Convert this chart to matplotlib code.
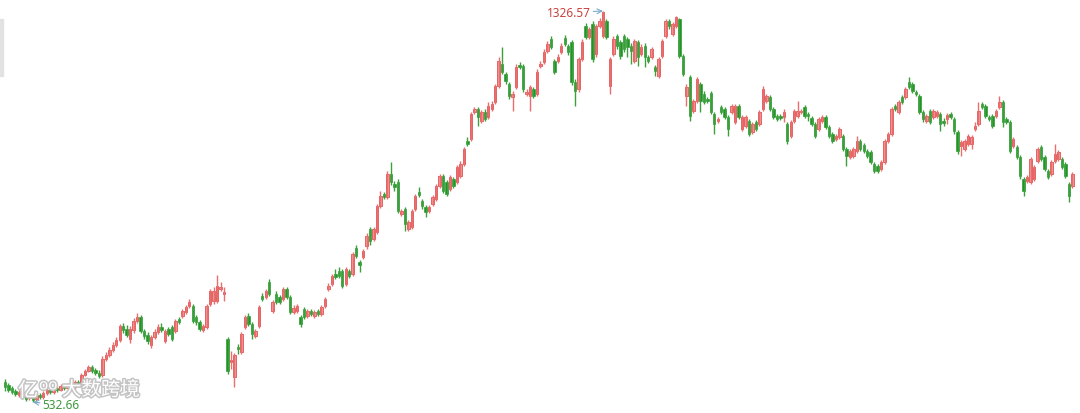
import numpy as np
import matplotlib.pyplot as plt
import matplotlib.patheffects as pe
from matplotlib.patches import Rectangle

plt.rcParams['font.family'] = ['Noto Sans', 'Noto Sans CJK SC', 'DejaVu Sans']

# daily OHLC (price units)
opens = [
    574, 567, 561, 555, 547, 551, 545, 541, 543, 539,
    547, 543, 551, 557, 553, 561, 557, 565, 561, 567,
    563, 574, 567, 588, 596, 604, 598, 592, 588, 620,
    628, 638, 649, 659, 687, 681, 661, 679, 697, 705,
    677, 669, 649, 665, 675, 685, 657, 681, 685, 677,
    701, 707, 716, 728, 728, 705, 695, 679, 685, 732,
    738, 738, 762, 752, 661, 614, 584, 645, 634, 685,
    707, 691, 667, 687, 748, 746, 777, 718, 752, 746,
    742, 762, 746, 716, 718, 705, 722, 707, 718, 707,
    718, 712, 728, 762, 772, 793, 799, 799, 772, 799,
    793, 846, 817, 827, 850, 884, 864, 878, 931, 955,
    949, 996, 975, 980, 915, 925, 884, 888, 925, 959,
    941, 929, 921, 935, 945, 971, 992, 980, 965, 986,
    980, 992, 1016, 1063, 1067, 1122, 1128, 1103, 1122, 1111,
    1128, 1142, 1174, 1219, 1199, 1178, 1152, 1172, 1217, 1215,
    1158, 1154, 1168, 1158, 1215, 1223, 1245, 1270, 1225, 1225,
    1243, 1272, 1256, 1264, 1183, 1168, 1229, 1296, 1274, 1300,
    1239, 1296, 1276, 1306, 1174, 1239, 1276, 1264, 1276, 1270,
    1256, 1225, 1264, 1239, 1256, 1233, 1233, 1213, 1195, 1235,
    1276, 1306, 1280, 1296, 1310, 1235, 1154, 1193, 1124, 1144,
    1178, 1158, 1148, 1160, 1118, 1103, 1132, 1128, 1111, 1122,
    1101, 1134, 1087, 1093, 1103, 1081, 1101, 1097, 1128, 1144,
    1152, 1128, 1113, 1113, 1111, 1097, 1073, 1103, 1113, 1122,
    1132, 1118, 1109, 1097, 1087, 1103, 1111, 1091, 1077, 1067,
    1071, 1073, 1046, 1030, 1032, 1042, 1063, 1055, 1042, 1040,
    1016, 1012, 1006, 1020, 1063, 1077, 1134, 1122, 1152, 1152,
    1183, 1178, 1162, 1154, 1122, 1103, 1124, 1111, 1113, 1118,
    1103, 1107, 1118, 1107, 1081, 1053, 1046, 1057, 1057, 1087,
    1097, 1138, 1134, 1111, 1113, 1113, 1132, 1142, 1107, 1101,
    1053, 1051, 1030, 986, 982, 980, 986, 1022, 1051, 1030,
    1002, 996, 1022, 1026, 1026, 1016, 975, 971,
]
closes = [
    563, 557, 553, 549, 553, 543, 539, 545, 537, 547,
    543, 551, 557, 553, 561, 557, 565, 561, 567, 563,
    574, 567, 588, 596, 604, 596, 592, 586, 620, 628,
    638, 649, 659, 687, 679, 669, 681, 697, 705, 677,
    667, 657, 665, 675, 685, 679, 677, 671, 661, 697,
    695, 718, 726, 736, 697, 695, 681, 687, 728, 758,
    758, 768, 766, 756, 596, 618, 628, 640, 671, 705,
    691, 671, 677, 726, 742, 758, 752, 736, 736, 736,
    762, 746, 716, 724, 728, 691, 705, 718, 712, 716,
    712, 726, 742, 768, 789, 787, 789, 768, 803, 789,
    833, 829, 811, 839, 870, 860, 884, 931, 951, 949,
    996, 980, 969, 921, 921, 894, 898, 921, 951, 953,
    931, 919, 929, 949, 971, 992, 962, 955, 990, 971,
    1010, 1016, 1046, 1057, 1118, 1128, 1111, 1122, 1107, 1134,
    1138, 1174, 1225, 1203, 1185, 1154, 1158, 1213, 1213, 1168,
    1162, 1172, 1154, 1203, 1219, 1243, 1260, 1254, 1203, 1233,
    1256, 1260, 1243, 1183, 1164, 1229, 1264, 1274, 1290, 1229,
    1296, 1306, 1325, 1274, 1229, 1270, 1256, 1235, 1249, 1254,
    1245, 1266, 1233, 1254, 1233, 1225, 1249, 1205, 1229, 1266,
    1306, 1296, 1300, 1314, 1235, 1199, 1172, 1113, 1144, 1189,
    1144, 1142, 1144, 1122, 1097, 1107, 1122, 1111, 1087, 1134,
    1134, 1111, 1111, 1111, 1077, 1097, 1087, 1122, 1168, 1154,
    1128, 1111, 1107, 1109, 1122, 1063, 1101, 1124, 1124, 1124,
    1113, 1113, 1097, 1073, 1107, 1111, 1091, 1073, 1063, 1073,
    1087, 1046, 1032, 1042, 1046, 1063, 1046, 1042, 1032, 1020,
    1002, 1002, 1020, 1063, 1077, 1128, 1128, 1142, 1142, 1168,
    1172, 1164, 1158, 1122, 1107, 1113, 1101, 1124, 1122, 1097,
    1099, 1115, 1111, 1083, 1042, 1061, 1063, 1073, 1071, 1093,
    1124, 1132, 1113, 1107, 1093, 1124, 1142, 1101, 1101, 1042,
    1067, 1030, 992, 961, 990, 1026, 1010, 1046, 1026, 1006,
    990, 1020, 1036, 1040, 1010, 992, 951, 996,
]
highs = [
    580, 571, 565, 559, 557, 555, 549, 549, 547, 551,
    551, 555, 561, 561, 565, 565, 569, 569, 571, 571,
    578, 578, 592, 600, 608, 608, 602, 598, 626, 634,
    645, 655, 665, 691, 693, 689, 687, 703, 714, 710,
    681, 675, 669, 681, 691, 693, 681, 685, 689, 701,
    705, 722, 730, 742, 732, 710, 699, 691, 732, 762,
    766, 791, 777, 766, 665, 636, 632, 651, 675, 710,
    714, 695, 681, 730, 754, 762, 783, 740, 758, 750,
    766, 766, 750, 730, 732, 710, 726, 722, 722, 720,
    722, 730, 746, 774, 793, 803, 807, 803, 807, 803,
    837, 852, 821, 843, 876, 888, 888, 935, 961, 959,
    1002, 1020, 982, 986, 925, 929, 902, 925, 955, 969,
    945, 933, 933, 953, 975, 996, 996, 984, 994, 990,
    1014, 1022, 1050, 1071, 1122, 1132, 1132, 1126, 1128, 1142,
    1144, 1178, 1233, 1254, 1203, 1182, 1164, 1219, 1223, 1219,
    1168, 1176, 1172, 1209, 1225, 1249, 1266, 1276, 1229, 1239,
    1262, 1278, 1260, 1268, 1189, 1233, 1270, 1302, 1294, 1306,
    1300, 1312, 1326.57, 1310, 1233, 1276, 1280, 1268, 1280, 1274,
    1262, 1270, 1268, 1260, 1262, 1237, 1254, 1217, 1233, 1270,
    1310, 1310, 1304, 1316, 1312, 1239, 1178, 1197, 1148, 1193,
    1183, 1164, 1152, 1164, 1122, 1111, 1136, 1132, 1115, 1138,
    1138, 1138, 1115, 1115, 1107, 1101, 1105, 1126, 1174, 1158,
    1156, 1132, 1118, 1118, 1128, 1101, 1105, 1128, 1144, 1128,
    1136, 1122, 1113, 1101, 1111, 1115, 1115, 1095, 1081, 1077,
    1091, 1077, 1051, 1046, 1051, 1073, 1067, 1059, 1046, 1044,
    1020, 1016, 1024, 1067, 1081, 1132, 1138, 1146, 1156, 1172,
    1193, 1183, 1166, 1158, 1126, 1117, 1128, 1128, 1126, 1122,
    1109, 1119, 1122, 1111, 1085, 1065, 1067, 1077, 1075, 1101,
    1142, 1142, 1138, 1115, 1117, 1128, 1154, 1146, 1111, 1105,
    1071, 1055, 1034, 990, 994, 1030, 1014, 1050, 1055, 1034,
    1006, 1024, 1057, 1044, 1030, 1020, 980, 1000,
]
lows = [
    555, 553, 549, 545, 543, 539, 535, 537, 532.66, 535,
    539, 539, 547, 549, 549, 553, 555, 557, 557, 559,
    559, 563, 563, 586, 594, 592, 588, 582, 584, 616,
    624, 634, 645, 655, 673, 665, 653, 673, 693, 673,
    661, 651, 643, 661, 671, 675, 653, 667, 657, 673,
    691, 703, 712, 724, 693, 689, 677, 675, 681, 728,
    732, 734, 758, 738, 590, 600, 563, 630, 630, 681,
    687, 661, 663, 683, 738, 742, 748, 714, 732, 732,
    738, 742, 712, 712, 714, 685, 701, 703, 707, 703,
    707, 707, 724, 758, 768, 783, 785, 764, 768, 785,
    789, 825, 797, 823, 843, 852, 860, 874, 927, 945,
    945, 973, 961, 917, 910, 880, 880, 884, 921, 949,
    925, 908, 917, 931, 941, 967, 957, 951, 961, 967,
    975, 988, 1012, 1053, 1063, 1118, 1093, 1099, 1103, 1107,
    1124, 1138, 1170, 1199, 1178, 1148, 1124, 1168, 1209, 1162,
    1154, 1124, 1150, 1154, 1211, 1219, 1241, 1249, 1199, 1221,
    1239, 1256, 1237, 1176, 1134, 1162, 1225, 1270, 1270, 1223,
    1233, 1292, 1272, 1270, 1158, 1235, 1249, 1229, 1243, 1233,
    1219, 1221, 1215, 1235, 1213, 1221, 1229, 1195, 1191, 1231,
    1272, 1290, 1276, 1292, 1231, 1195, 1134, 1103, 1120, 1140,
    1122, 1138, 1140, 1118, 1077, 1099, 1118, 1107, 1073, 1118,
    1097, 1107, 1083, 1089, 1073, 1077, 1083, 1093, 1124, 1140,
    1124, 1107, 1103, 1105, 1101, 1057, 1069, 1099, 1109, 1118,
    1109, 1103, 1093, 1069, 1083, 1099, 1087, 1069, 1059, 1063,
    1067, 1042, 1012, 1026, 1028, 1038, 1042, 1038, 1028, 1016,
    998, 998, 1002, 1016, 1059, 1073, 1124, 1118, 1138, 1148,
    1168, 1160, 1154, 1118, 1101, 1099, 1097, 1107, 1109, 1083,
    1093, 1097, 1107, 1077, 1036, 1032, 1042, 1053, 1046, 1083,
    1093, 1128, 1109, 1103, 1089, 1109, 1128, 1091, 1097, 1038,
    1049, 1026, 986, 951, 977, 975, 982, 1018, 1022, 1002,
    986, 992, 1018, 1022, 1006, 988, 939, 967,
]

o = np.array(opens, dtype=float)
c = np.array(closes, dtype=float)
h = np.array(highs, dtype=float)
l = np.array(lows, dtype=float)
idx = np.arange(len(o))
up = c >= o

fig = plt.figure(figsize=(10.8, 4.14), dpi=100)
ax = fig.add_axes([0, 0, 1, 1])

# wicks
ax.vlines(idx[up], l[up], h[up], color='#e96f6f', lw=1)
ax.vlines(idx[~up], l[~up], h[~up], color='#3c9f3c', lw=1)

# bodies (red = up, green = down)
body = np.maximum(np.abs(c - o), 1.5)
ax.bar(idx[up], body[up], bottom=o[up], width=0.7,
       color='#f29a9a', edgecolor='#e05252', linewidth=0.6)
ax.bar(idx[~up], body[~up], bottom=c[~up], width=0.7,
       color='#1a921f', edgecolor='#1a921f', linewidth=0.4)

ax.set_xlim(-1.44, 309.2)
ax.set_ylim(510.6, 1351)
ax.axis('off')

# max / min markers
imax = int(np.argmax(h))
imin = int(np.argmin(l))
ax.annotate(f'{h[imax]:.2f}', xy=(imax, h[imax]), xytext=(-9, -1),
            textcoords='offset points', ha='right', va='center',
            fontsize=8.5, color='#c9413c',
            arrowprops=dict(arrowstyle='->', color='#7da8cc', lw=0.8,
                            shrinkA=0, shrinkB=0))
ax.annotate(f'{l[imin]:.2f}', xy=(imin, l[imin]), xytext=(7, -2),
            textcoords='offset points', ha='left', va='center',
            fontsize=8.5, color='#3d9a3d',
            arrowprops=dict(arrowstyle='->', color='#7da8cc', lw=0.8,
                            shrinkA=0, shrinkB=0))

# watermark
wm = [pe.withStroke(linewidth=2.2, foreground='#c4c4c4')]
fig.text(18 / 1080, 1 - 392 / 414, '亿', fontsize=14.5, color='white',
         family=['Noto Sans CJK SC'], va='center', path_effects=wm)
fig.text(39 / 1080, 1 - 387 / 414, 'oo', fontsize=11, color='white',
         va='center', path_effects=wm)
fig.text(62 / 1080, 1 - 391 / 414, '大数跨境', fontsize=14, color='white',
         family=['Noto Sans CJK SC'], va='center', path_effects=wm)

# scroll handle on the left edge
fig.patches.append(Rectangle((0, 1 - 77 / 414), 3 / 1080, 57 / 414,
                             transform=fig.transFigure, color='#e2e2e2'))

fig.savefig('out.png', dpi=100)
